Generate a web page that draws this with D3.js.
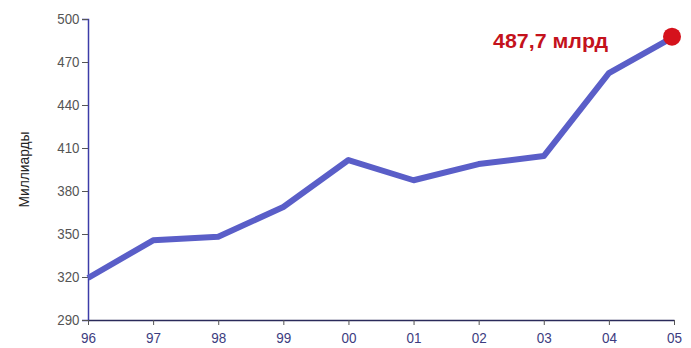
<!DOCTYPE html>
<html>
<head>
<meta charset="utf-8">
<script src="https://cdn.jsdelivr.net/npm/d3@7"></script>
<style>
  html, body { margin: 0; padding: 0; background: #fff; }
  svg { display: block; }
  .tick text { font-family: "Liberation Sans", Arial, sans-serif; }
</style>
</head>
<body>
<svg id="chart" width="691" height="348"></svg>
<script>
// Years (two-digit labels) and yearly totals, billions
const years = ["96", "97", "98", "99", "00", "01", "02", "03", "04", "05"];
const values = [319.3, 345.6, 348.1, 368.8, 401.6, 387.5, 398.8, 404.4, 462.3, 487.7];
const yTicks = [290, 320, 350, 380, 410, 440, 470, 500];
const lastLabel = "487,7 млрд";
const yTitle = "Миллиарды";

const svg = d3.select("#chart");
const margin = { left: 88, right: 17, top: 19, bottom: 28 };
const W = 691, H = 348;

const x = d3.scalePoint().domain(years).range([margin.left, W - margin.right]);
const y = d3.scaleLinear().domain([290, 500]).range([H - margin.bottom, margin.top]);

const fontFam = '"Liberation Sans", Arial, sans-serif';

// Y axis
const yAxis = svg.append("g")
  .attr("transform", `translate(${margin.left},0)`)
  .call(d3.axisLeft(y).tickValues(yTicks).tickSize(6).tickPadding(3));
yAxis.select(".domain").attr("stroke", "#3c3ca8").attr("stroke-width", 1.5);
yAxis.selectAll(".tick line").attr("stroke", "#555");
yAxis.selectAll(".tick text").attr("fill", "#555").attr("font-size", 14)
  .attr("transform", "scale(0.95,1.05)");

// X axis
const xAxis = svg.append("g")
  .attr("transform", `translate(0,${y(290)})`)
  .call(d3.axisBottom(x).tickSize(5).tickPadding(7).tickSizeOuter(0));
xAxis.select(".domain").attr("stroke", "#2a2a5a").attr("stroke-width", 1.6);
xAxis.selectAll(".tick line").attr("stroke", "#555");
xAxis.selectAll(".tick text").attr("fill", "#3c3c80").attr("font-size", 15)
  .attr("textLength", 15).attr("lengthAdjust", "spacingAndGlyphs");

// Y axis title
svg.append("text")
  .attr("transform", `translate(29,${(y(290) + y(500)) / 2}) rotate(-90)`)
  .attr("text-anchor", "middle")
  .attr("font-family", fontFam)
  .attr("font-size", 15)
  .attr("textLength", 76)
  .attr("lengthAdjust", "spacingAndGlyphs")
  .attr("fill", "#222")
  .text(yTitle);

// Series line
const data = years.map((k, i) => ({ k, v: values[i] }));
svg.append("path")
  .datum(data)
  .attr("fill", "none")
  .attr("stroke", "#5a5ec8")
  .attr("stroke-width", 6)
  .attr("stroke-linejoin", "round")
  .attr("d", d3.line().x(d => x(d.k)).y(d => y(d.v)));

// Final point marker and its value label
const last = data[data.length - 1];
svg.append("circle")
  .attr("cx", x(last.k) - 2)
  .attr("cy", y(last.v))
  .attr("r", 9)
  .attr("fill", "#d5121c");

svg.append("text")
  .attr("x", 493)
  .attr("y", 48)
  .attr("font-family", fontFam)
  .attr("font-weight", "bold")
  .attr("font-size", 21)
  .attr("textLength", 115)
  .attr("lengthAdjust", "spacingAndGlyphs")
  .attr("fill", "#c4121c")
  .text(lastLabel);
</script>
</body>
</html>
